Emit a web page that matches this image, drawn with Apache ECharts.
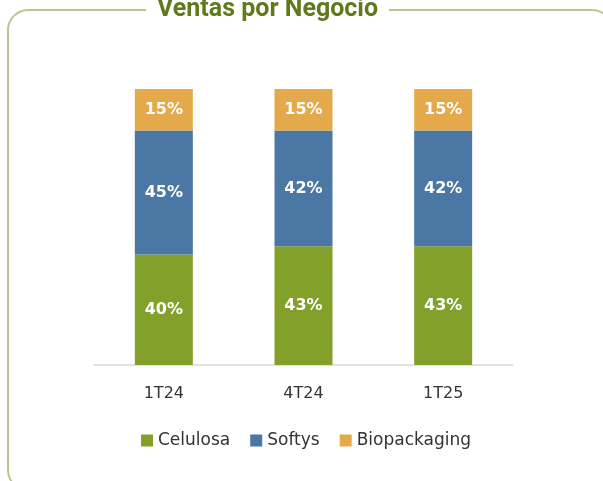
<!DOCTYPE html>
<html>
<head>
<meta charset="utf-8">
<script src="https://cdn.jsdelivr.net/npm/echarts@6/dist/echarts.min.js"></script>
<style>
  html, body { margin: 0; padding: 0; background: #fff; }
  #chart { width: 603px; height: 481px; }
</style>
</head>
<body>
<div id="chart"></div>
<script>
var categories = ['1T24', '4T24', '1T25'];
var celulosa = [40, 43, 43];
var softys = [45, 42, 42];
var biopackaging = [15, 15, 15];

var myChart = echarts.init(document.getElementById('chart'));

var labelStyle = {
    show: true,
    position: 'inside',
    color: '#fff',
    fontWeight: 'bold',
    fontSize: 16,
    fontFamily: 'DejaVu Sans',
    formatter: '{c}%'
};

function makeSeries(name, data, color) {
    return {
        name: name,
        type: 'bar',
        stack: 'total',
        barWidth: 58,
        itemStyle: { color: color },
        label: labelStyle,
        data: data
    };
}

var option = {
    backgroundColor: '#fff',
    animation: false,
    graphic: [{
        type: 'rect',
        shape: { x: 8, y: 10, width: 604, height: 480, r: 20 },
        style: { fill: 'none', stroke: '#b8c791', lineWidth: 2 },
        z: 0
    }],
    title: {
        text: 'Ventas por Negocio',
        left: 146,
        top: -3,
        padding: [0, 11],
        backgroundColor: '#fff',
        textStyle: {
            color: '#5f7a1c',
            fontFamily: 'Roboto',
            fontWeight: 'bold',
            fontSize: 25
        }
    },
    legend: {
        bottom: 27,
        left: 136,
        itemWidth: 12,
        itemHeight: 12,
        itemGap: 20,
        icon: 'rect',
        textStyle: { color: '#333', fontSize: 17, fontFamily: 'DejaVu Sans' },
        data: ['Celulosa', 'Softys', 'Biopackaging']
    },
    grid: { left: 94, right: 90, top: 89, bottom: 116 },
    xAxis: {
        type: 'category',
        data: categories,
        axisLine: { lineStyle: { color: '#d9d9d9', width: 1.5 } },
        axisTick: { show: false },
        axisLabel: { color: '#333', fontSize: 16, fontFamily: 'DejaVu Sans', margin: 21 }
    },
    yAxis: {
        type: 'value',
        min: 0,
        max: 100,
        show: false
    },
    series: [
        makeSeries('Celulosa', celulosa, '#82a02a'),
        makeSeries('Softys', softys, '#4a77a4'),
        makeSeries('Biopackaging', biopackaging, '#e4a94b')
    ]
};
myChart.setOption(option);
</script>
</body>
</html>
